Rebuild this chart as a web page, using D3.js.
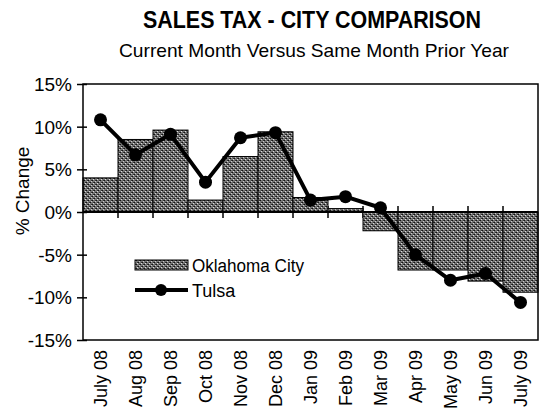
<!DOCTYPE html>
<html>
<head>
<meta charset="utf-8">
<script src="https://cdn.jsdelivr.net/npm/d3@7"></script>
<style>
  body { margin: 0; background: #fff; }
  text { font-family: "Liberation Sans", Arial, sans-serif; fill: #000; }
</style>
</head>
<body>
<div id="chart"></div>
<script>
var months = ["July 08","Aug 08","Sep 08","Oct 08","Nov 08","Dec 08","Jan 09","Feb 09","Mar 09","Apr 09","May 09","Jun 09","July 09"];
var okc = [4.0, 8.5, 9.6, 1.4, 6.5, 9.4, 1.7, 0.4, -2.2, -6.8, -6.8, -8.1, -9.4];
var tulsa = [10.8, 6.7, 9.1, 3.5, 8.7, 9.3, 1.4, 1.8, 0.5, -5.0, -8.0, -7.2, -10.6];
var yTicks = [15, 10, 5, 0, -5, -10, -15];

var W = 543, H = 414;
var pLeft = 83, pRight = 538, pTop = 84, pBottom = 340;

var svg = d3.select("#chart")
	.append("svg")
	.attr("width", W)
	.attr("height", H);

// stipple fill like the scanned excel bars
var pat = svg.append("defs").append("pattern")
	.attr("id", "stip")
	.attr("width", 4).attr("height", 4)
	.attr("patternUnits", "userSpaceOnUse");
pat.append("rect").attr("width", 4).attr("height", 4).attr("fill", "#747474");
pat.append("rect").attr("x", 0).attr("y", 0).attr("width", 1).attr("height", 1).attr("fill", "#111");
pat.append("rect").attr("x", 2).attr("y", 2).attr("width", 1).attr("height", 1).attr("fill", "#111");
pat.append("rect").attr("x", 3).attr("y", 0).attr("width", 1).attr("height", 1).attr("fill", "#333");
pat.append("rect").attr("x", 1).attr("y", 2).attr("width", 1).attr("height", 1).attr("fill", "#333");
pat.append("rect").attr("x", 1).attr("y", 3).attr("width", 1).attr("height", 1).attr("fill", "#ddd");
pat.append("rect").attr("x", 3).attr("y", 1).attr("width", 1).attr("height", 1).attr("fill", "#ccc");

var x = d3.scaleBand().domain(months).range([pLeft, pRight]).padding(0);
var y = d3.scaleLinear().domain([-15, 15]).range([pBottom, pTop]);

// titles
svg.append("text")
	.attr("x", 312).attr("y", 28)
	.attr("text-anchor", "middle")
	.attr("font-size", 23).attr("font-weight", "bold")
	.attr("textLength", 338).attr("lengthAdjust", "spacingAndGlyphs")
	.text("SALES TAX - CITY COMPARISON");
svg.append("text")
	.attr("x", 314).attr("y", 57)
	.attr("text-anchor", "middle")
	.attr("font-size", 19)
	.attr("textLength", 390).attr("lengthAdjust", "spacingAndGlyphs")
	.text("Current Month Versus Same Month Prior Year");

// category ticks across the zero line
svg.append("g").selectAll("line")
	.data(months.slice(1))
	.enter().append("line")
	.attr("x1", function(d) { return x(d); })
	.attr("x2", function(d) { return x(d); })
	.attr("y1", y(0) - 6).attr("y2", y(0) + 6)
	.attr("stroke", "#000").attr("stroke-width", 1.5);

// bars
svg.append("g").selectAll("rect")
	.data(okc)
	.enter().append("rect")
	.attr("x", function(d, i) { return x(months[i]); })
	.attr("width", x.bandwidth())
	.attr("y", function(d) { return y(Math.max(0, d)); })
	.attr("height", function(d) { return Math.abs(y(d) - y(0)); })
	.attr("fill", "url(#stip)")
	.attr("stroke", "#000").attr("stroke-width", 1);

// zero line
svg.append("line")
	.attr("x1", pLeft).attr("x2", pRight)
	.attr("y1", y(0)).attr("y2", y(0))
	.attr("stroke", "#000").attr("stroke-width", 2);

// y axis
var yAxis = d3.axisLeft(y).tickValues(yTicks)
	.tickFormat(function(d) { return d + "%"; })
	.tickSize(6).tickPadding(5);
var ya = svg.append("g").attr("transform", "translate(" + pLeft + ",0)").call(yAxis);
ya.select(".domain").remove();
ya.selectAll(".tick line").attr("x2", -6).attr("x1", 4).attr("stroke-width", 1.5);
ya.selectAll(".tick text")
	.attr("font-size", 19)
	.attr("font-family", "Liberation Sans, Arial, sans-serif")
	.attr("dy", "0.35em");

// plot frame
svg.append("rect")
	.attr("x", pLeft).attr("y", pTop)
	.attr("width", pRight - pLeft).attr("height", pBottom - pTop)
	.attr("fill", "none").attr("stroke", "#000").attr("stroke-width", 1.5);

// x labels
var xAxis = d3.axisBottom(x).tickSize(0).tickPadding(0);
var xa = svg.append("g").attr("transform", "translate(0," + pBottom + ")").call(xAxis);
xa.select(".domain").remove();
xa.selectAll(".tick text")
	.attr("font-size", 18)
	.attr("font-family", "Liberation Sans, Arial, sans-serif")
	.attr("text-anchor", "end")
	.attr("transform", "rotate(-90)")
	.attr("x", -10).attr("y", 0).attr("dy", "0.35em");

// y title
svg.append("text")
	.attr("transform", "translate(29,191) rotate(-90)")
	.attr("text-anchor", "middle")
	.attr("font-size", 19)
	.text("% Change");

// tulsa line
var line = d3.line()
	.x(function(d, i) { return x(months[i]) + x.bandwidth() / 2; })
	.y(function(d) { return y(d); });
svg.append("path")
	.datum(tulsa)
	.attr("d", line)
	.attr("fill", "none").attr("stroke", "#000").attr("stroke-width", 4)
	.attr("stroke-linejoin", "round");
svg.append("g").selectAll("circle")
	.data(tulsa)
	.enter().append("circle")
	.attr("cx", function(d, i) { return x(months[i]) + x.bandwidth() / 2; })
	.attr("cy", function(d) { return y(d); })
	.attr("r", 6.5).attr("fill", "#000");

// legend
var lg = svg.append("g");
lg.append("rect")
	.attr("x", 135).attr("y", 260).attr("width", 53).attr("height", 10)
	.attr("fill", "url(#stip)").attr("stroke", "#000").attr("stroke-width", 1);
lg.append("text").attr("x", 192).attr("y", 272).attr("font-size", 18)
	.attr("textLength", 112).attr("lengthAdjust", "spacingAndGlyphs").text("Oklahoma City");
lg.append("line")
	.attr("x1", 135).attr("x2", 188).attr("y1", 290).attr("y2", 290)
	.attr("stroke", "#000").attr("stroke-width", 4);
lg.append("circle").attr("cx", 161).attr("cy", 290).attr("r", 6).attr("fill", "#000");
lg.append("text").attr("x", 192).attr("y", 297).attr("font-size", 18).text("Tulsa");
</script>
</body>
</html>
